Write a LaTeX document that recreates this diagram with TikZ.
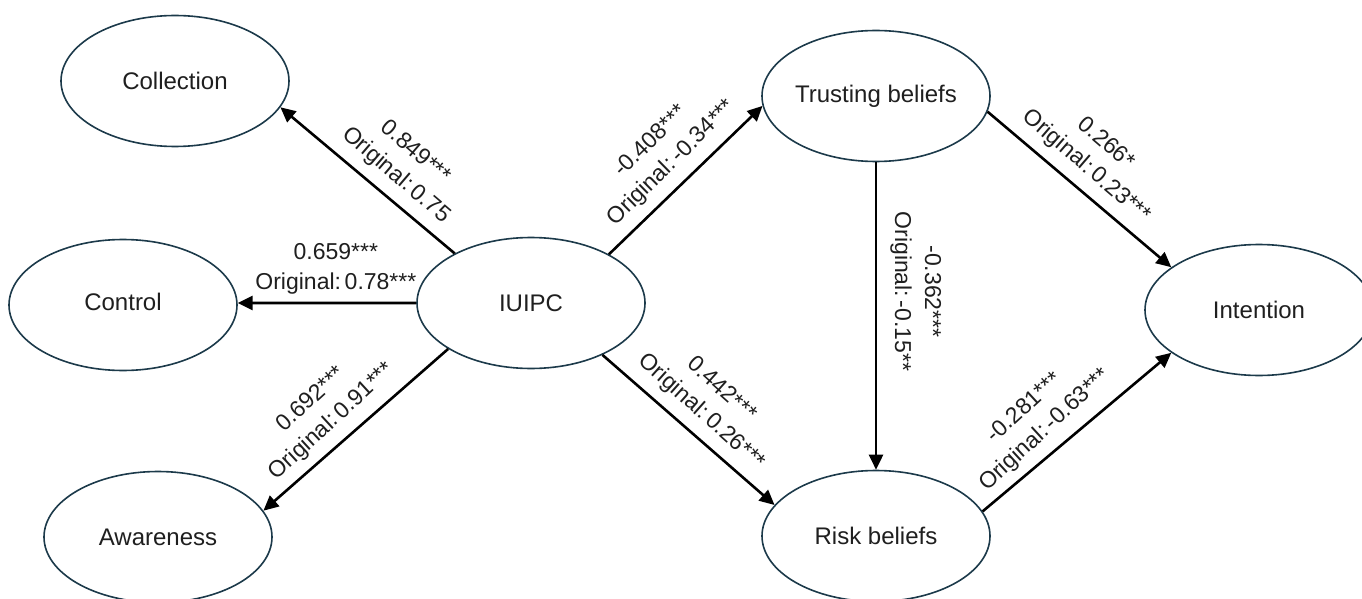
\documentclass[tikz,border=0pt]{standalone}
\usepackage{fontspec}
\setmainfont{Liberation Sans}
\usetikzlibrary{shapes.geometric,arrows.meta}
\definecolor{ellborder}{HTML}{1C3A4A}
\definecolor{txt}{HTML}{1F1F1F}
\newcommand{\orig}{Original:\hspace{0.16em}}
\begin{document}
\begin{tikzpicture}[x=1pt,y=-1pt,
  latent/.style={ellipse, draw=ellborder, line width=1.6pt, minimum width=228pt, minimum height=131pt, inner sep=0pt, font=\fontsize{24}{28}\selectfont, text=txt},
  link/.style={line width=2.6pt, -{Triangle[length=15pt,width=14pt]}},
  elab/.style={font=\fontsize{23}{30}\selectfont, align=center, anchor=south, inner sep=10pt, text=txt}
]
\useasboundingbox (0,0) rectangle (1362,599);
\fill[white] (0,0) rectangle (1362,599);
\node[latent] (coll)   at (175,81)   {\makebox[0pt]{Collection}};
\node[latent] (ctrl)   at (123,305)  {\makebox[0pt]{\raisebox{6pt}{Control}}};
\node[latent] (aware)  at (158,537)  {\makebox[0pt]{Awareness}};
\node[latent] (iuipc)  at (531,303)  {\makebox[0pt]{\raisebox{-6pt}{IUIPC}}};
\node[latent] (trust)  at (876,96)   {\makebox[0pt]{Trusting beliefs}};
\node[latent] (risk)   at (876,536)  {\makebox[0pt]{Risk beliefs}};
\node[latent] (intent) at (1259,310) {\makebox[0pt]{Intention}};

\draw[link] (iuipc.147.7) -- node[elab, pos=0.42, rotate=-40.6] {0.849***\\\orig 0.75} (coll.-14);
\draw[link] (iuipc.west) -- node[elab, pos=0.45, inner sep=7pt] {0.659***\\\orig 0.78***} (ctrl.1);
\draw[link] (iuipc.209.5) -- node[elab, pos=0.55, rotate=42.6] {0.692***\\\orig 0.91***} (aware.14);
\draw[link] (iuipc.32.2) -- node[elab, pos=0.51, rotate=44.4] {-0.408***\\\orig -0.34***} (trust.185.4);
\draw[link] (iuipc.-36.2) -- node[elab, pos=0.49, rotate=-41.8] {0.442***\\\orig 0.26***} (risk.163.7);
\draw[link] (trust.south) -- node[elab, pos=0.42, rotate=-90, inner sep=13pt] {-0.362***\\\orig -0.15**} (risk.north);
\draw[link] (trust.-8.5) -- node[elab, pos=0.46, rotate=-40.7] {0.266*\\\orig 0.23***} (intent.154.7);
\draw[link] (risk.13.5) -- node[elab, pos=0.41, rotate=42.6] {-0.281***\\\orig -0.63***} (intent.206);
\end{tikzpicture}
\end{document}
